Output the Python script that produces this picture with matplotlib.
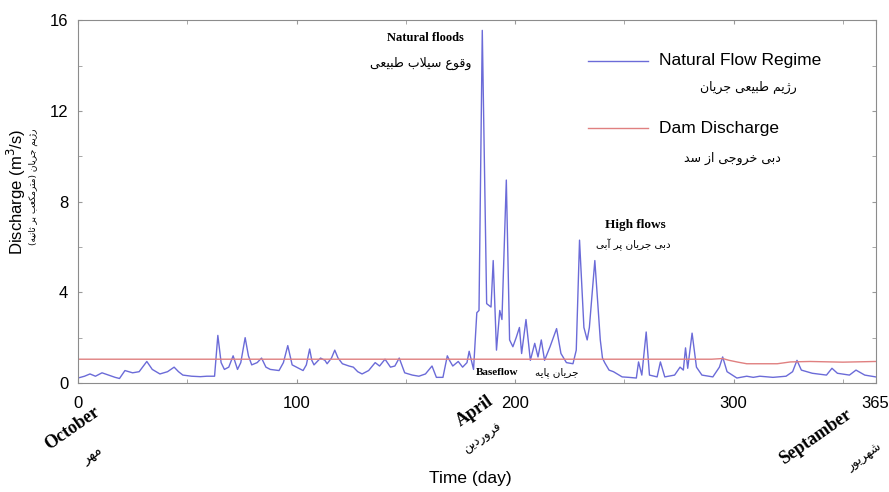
import numpy as np
import matplotlib.pyplot as plt

# natural flow regime (day, m3/s)
flow_days = [0, 3, 5.5, 8, 11, 14, 17, 19, 21.5, 25, 28, 31.5, 34, 37.5, 41, 44, 46, 48, 52, 56,
             59, 62.5, 64, 65.5, 67, 69, 71, 73, 74.5, 76.5, 78, 79.5, 82, 84, 86, 88, 92, 94, 96, 98,
             100, 103, 104.5, 106, 107, 108, 111, 113, 114, 116, 117.5, 119, 121, 124, 126, 128, 130, 133, 136, 138,
             140.5, 143, 145, 147, 149.5, 153, 156, 159, 162, 164, 167, 169, 170, 171.5, 174, 176, 178, 179, 180, 181,
             182.5, 183.5, 185, 187, 189, 190, 191.5, 193, 194, 196, 197.5, 199, 200.5, 202, 203, 205, 207, 209, 210.5, 212,
             213.5, 216, 219, 221, 223.5, 226.5, 228, 229.5, 231.5, 233, 234, 236.5, 239, 240, 241, 243, 245, 249, 252, 255.5,
             256.5, 258, 260, 261.5, 265, 266.5, 268.5, 273, 275.5, 277, 278, 279, 281, 283, 285.5, 290.5, 293.5, 295, 297, 301.5,
             306, 309, 312, 318, 324, 327, 329, 331, 336, 342.5, 345, 347.5, 353, 356, 360, 365]
flow_vals = [0.22, 0.3, 0.4, 0.3, 0.45, 0.35, 0.25, 0.2, 0.55, 0.45, 0.5, 0.95, 0.6, 0.4, 0.5, 0.7, 0.5, 0.35, 0.3, 0.28,
             0.3, 0.3, 2.1, 0.9, 0.6, 0.7, 1.2, 0.6, 0.9, 2.0, 1.2, 0.8, 0.9, 1.1, 0.7, 0.6, 0.55, 0.9, 1.65, 0.8,
             0.7, 0.55, 0.8, 1.5, 1.0, 0.8, 1.1, 1.0, 0.85, 1.1, 1.45, 1.1, 0.85, 0.75, 0.7, 0.5, 0.4, 0.55, 0.9, 0.75,
             1.05, 0.7, 0.75, 1.1, 0.45, 0.35, 0.3, 0.4, 0.75, 0.25, 0.25, 1.2, 1.0, 0.75, 0.95, 0.7, 0.9, 1.4, 1.0, 0.6,
             3.1, 3.2, 15.55, 3.5, 3.35, 5.4, 1.45, 3.2, 2.8, 8.95, 1.9, 1.6, 2.0, 2.45, 1.3, 2.8, 1.0, 1.75, 1.15, 1.9,
             1.0, 1.6, 2.4, 1.3, 0.9, 0.85, 1.45, 6.3, 2.45, 1.9, 2.45, 5.4, 1.9, 1.1, 0.9, 0.57, 0.5, 0.27, 0.25, 0.22,
             0.93, 0.35, 2.25, 0.35, 0.27, 0.93, 0.27, 0.35, 0.7, 0.57, 1.55, 0.65, 2.2, 0.7, 0.35, 0.27, 0.7, 1.15, 0.5, 0.22,
             0.3, 0.25, 0.3, 0.25, 0.3, 0.5, 1.0, 0.57, 0.43, 0.35, 0.65, 0.43, 0.35, 0.57, 0.35, 0.27]

# dam discharge
dam_days = [0, 290, 295, 298, 302, 306, 320, 326, 335, 350, 365]
dam_vals = [1.05, 1.05, 1.08, 1.0, 0.92, 0.85, 0.85, 0.93, 0.95, 0.92, 0.95]

x_ticks = [0, 100, 200, 300, 365]
x_minor = [50, 150, 250, 350]
y_ticks = [0, 4, 8, 12, 16]
y_minor = [2, 6, 10, 14]

# minimal persian shaping: (isolated, final, initial, medial)
FORMS = {
    'ا': (0xFE8D, 0xFE8E, None, None), 'ب': (0xFE8F, 0xFE90, 0xFE91, 0xFE92),
    'ت': (0xFE95, 0xFE96, 0xFE97, 0xFE98), 'ث': (0xFE99, 0xFE9A, 0xFE9B, 0xFE9C),
    'ج': (0xFE9D, 0xFE9E, 0xFE9F, 0xFEA0), 'خ': (0xFEA5, 0xFEA6, 0xFEA7, 0xFEA8),
    'د': (0xFEA9, 0xFEAA, None, None), 'ر': (0xFEAD, 0xFEAE, None, None),
    'ز': (0xFEAF, 0xFEB0, None, None), 'س': (0xFEB1, 0xFEB2, 0xFEB3, 0xFEB4),
    'ش': (0xFEB5, 0xFEB6, 0xFEB7, 0xFEB8), 'ط': (0xFEC1, 0xFEC2, 0xFEC3, 0xFEC4),
    'ع': (0xFEC9, 0xFECA, 0xFECB, 0xFECC), 'ف': (0xFED1, 0xFED2, 0xFED3, 0xFED4),
    'ق': (0xFED5, 0xFED6, 0xFED7, 0xFED8), 'ل': (0xFEDD, 0xFEDE, 0xFEDF, 0xFEE0),
    'م': (0xFEE1, 0xFEE2, 0xFEE3, 0xFEE4), 'ن': (0xFEE5, 0xFEE6, 0xFEE7, 0xFEE8),
    'ه': (0xFEE9, 0xFEEA, 0xFEEB, 0xFEEC), 'و': (0xFEED, 0xFEEE, None, None),
    'پ': (0xFB56, 0xFB57, 0xFB58, 0xFB59), 'ژ': (0xFB8A, 0xFB8B, None, None),
    'ک': (0xFB8E, 0xFB8F, 0xFB90, 0xFB91), 'ی': (0xFBFC, 0xFBFD, 0xFBFE, 0xFBFF),
}


def fa(text):
    res = []
    i = 0
    n = len(text)
    while i < n:
        c = text[i]
        if c not in FORMS:
            res.append(c)
            i += 1
            continue
        prev = text[i - 1] if i > 0 else ''
        prev_join = prev in FORMS and FORMS[prev][2] is not None
        if c == 'ل' and i + 1 < n and text[i + 1] == 'ا':
            res.append(chr(0xFEFC if prev_join else 0xFEFB))
            i += 2
            continue
        nxt = text[i + 1] if i + 1 < n else ''
        next_join = nxt in FORMS and FORMS[c][2] is not None
        f = FORMS[c]
        if prev_join and next_join:
            res.append(chr(f[3]))
        elif prev_join:
            res.append(chr(f[1]))
        elif next_join:
            res.append(chr(f[2]))
        else:
            res.append(chr(f[0]))
        i += 1
    out = ''.join(reversed(res))
    return out.replace('(', '\0').replace(')', '(').replace('\0', ')')


plt.rcParams['font.family'] = ['Liberation Sans', 'DejaVu Sans']
FA = ['DejaVu Sans']
SERIF = 'Liberation Serif'

fig = plt.figure(figsize=(8.89, 4.92), dpi=100)
ax = fig.add_axes([0.0877, 0.2215, 0.8973, 0.7375])

ax.plot(flow_days, flow_vals, color='#6b6bd8', lw=1.0)
ax.plot(dam_days, dam_vals, color='#e08080', lw=1.0)

ax.set_xlim(0, 365)
ax.set_ylim(0, 16)
ax.set_xticks(x_ticks)
ax.set_xticks(x_minor, minor=True)
ax.set_yticks(y_ticks)
ax.set_yticks(y_minor, minor=True)
ax.tick_params(which='both', direction='in', top=True, right=True, length=3,
               color='#999999', labelsize=12)
ax.tick_params(axis='x', pad=9)
ax.tick_params(axis='y', pad=7)
for s in ax.spines.values():
    s.set_color('#8c8c8c')

# legend drawn by hand (two-line labels)
tr = ax.transAxes
ax.plot([0.64, 0.715], [0.888, 0.888], color='#6b6bd8', lw=1.0, transform=tr)
ax.text(0.728, 0.888, 'Natural Flow Regime', fontsize=12.5, va='center', transform=tr)
ax.text(0.84, 0.815, fa('رژیم طبیعی جریان'), fontsize=9, family=FA, ha='center', va='center', transform=tr)
ax.plot([0.64, 0.715], [0.702, 0.702], color='#e08080', lw=1.0, transform=tr)
ax.text(0.728, 0.702, 'Dam Discharge', fontsize=12.5, va='center', transform=tr)
ax.text(0.82, 0.62, fa('دبی خروجی از سد'), fontsize=9, family=FA, ha='center', va='center', transform=tr)

# annotations
ax.text(159, 15.2, 'Natural floods', family=SERIF, weight='bold', fontsize=9, ha='center', va='center')
ax.text(180, 14.1, fa('وقوع سیلاب طبیعی'), family=FA, fontsize=9, ha='right', va='center')
ax.text(255, 6.96, 'High flows', family=SERIF, weight='bold', fontsize=9.5, ha='center', va='center')
ax.text(254, 6.1, fa('دبی جریان پر آبی'), family=FA, fontsize=7.5, ha='center', va='center')
ax.text(182, 0.45, 'Baseflow', family=SERIF, weight='bold', fontsize=8, ha='left', va='center')
ax.text(209, 0.45, fa('جریان پایه'), family=FA, fontsize=7.5, ha='left', va='center')

# axis titles
fig.text(0.019, 0.61, 'Discharge (m$^3$/s)', rotation=90, fontsize=12, ha='center', va='center')
fig.text(0.0375, 0.62, fa('رژیم جریان (مترمکعب بر ثانیه)'), rotation=90, family=FA, fontsize=6.5,
         ha='center', va='center')
fig.text(0.529, 0.028, 'Time (day)', fontsize=12.5, ha='center', va='center')

# month labels
fig.text(0.081, 0.13, 'October', rotation=35, family=SERIF, weight='bold', fontsize=13, ha='center', va='center')
fig.text(0.104, 0.075, fa('مهر'), rotation=35, family=FA, fontsize=10, ha='center', va='center')
fig.text(0.534, 0.165, 'April', rotation=35, family=SERIF, weight='bold', fontsize=13, ha='center', va='center')
fig.text(0.543, 0.11, fa('فروردین'), rotation=35, family=FA, fontsize=9, ha='center', va='center')
fig.text(0.917, 0.112, 'Septamber', rotation=35, family=SERIF, weight='bold', fontsize=13, ha='center', va='center')
fig.text(0.973, 0.07, fa('شهریور'), rotation=35, family=FA, fontsize=9, ha='center', va='center')

fig.savefig('out.png', dpi=100, facecolor='white')
